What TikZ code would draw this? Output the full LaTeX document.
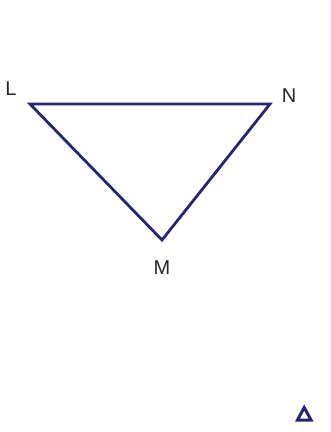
\documentclass[tikz,border=0pt]{standalone}
\usepackage{fontspec}
\setmainfont{Liberation Sans}
\definecolor{navy}{HTML}{26266E}
\begin{document}
\begin{tikzpicture}[x=1pt,y=-1pt,
  edge/.style={draw=navy,line width=2.8pt,line join=miter},
  lbl/.style={font=\fontsize{20}{24}\selectfont,text=black!85,inner sep=0pt}]
\useasboundingbox (0,0) rectangle (331,432);
\coordinate (L) at (30,104);
\coordinate (N) at (270,104);
\coordinate (M) at (162,240);
\draw[edge] (L) -- (N) -- (M) -- cycle;
\node[lbl] (lL) at (11,89) {L};
\node[lbl] (lN) at (289,96) {N};
\node[lbl] (lM) at (162,268) {M};
\draw[navy,line width=3pt,line join=miter] (297.5,420) -- (311,420) -- (304.2,407.5) -- cycle;
\draw[blue!6,line width=0.8pt] (330,0) -- (330,432);
\end{tikzpicture}
\end{document}
